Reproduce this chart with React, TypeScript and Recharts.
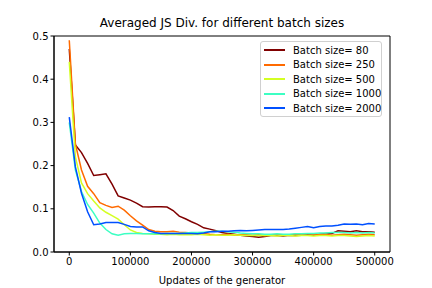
import { Line, LineChart, ReferenceArea, XAxis, YAxis } from "recharts";

const updates = Array.from({ length: 51 }, (_, i) => i * 10000);

const batch80 = [
  0.47, 0.248, 0.23, 0.205, 0.177, 0.179, 0.181, 0.157, 0.13, 0.125, 0.12,
  0.113, 0.105, 0.104, 0.105, 0.105, 0.104, 0.096, 0.083, 0.077, 0.07,
  0.064, 0.056, 0.053, 0.049, 0.045, 0.043, 0.041, 0.039, 0.037, 0.036,
  0.034, 0.036, 0.038, 0.038, 0.037, 0.039, 0.038, 0.039, 0.04, 0.039,
  0.041, 0.043, 0.043, 0.049, 0.048, 0.047, 0.049, 0.047, 0.047, 0.046,
];
const batch250 = [
  0.49, 0.25, 0.19, 0.152, 0.135, 0.114, 0.108, 0.103, 0.106, 0.097, 0.084,
  0.072, 0.062, 0.052, 0.048, 0.047, 0.047, 0.048, 0.046, 0.045, 0.044,
  0.042, 0.043, 0.041, 0.04, 0.04, 0.041, 0.039, 0.04, 0.04, 0.039,
  0.04, 0.038, 0.039, 0.04, 0.04, 0.039, 0.041, 0.04, 0.039, 0.04,
  0.04, 0.041, 0.039, 0.04, 0.041, 0.04, 0.039, 0.04, 0.041, 0.04,
];
const batch500 = [
  0.44, 0.22, 0.16, 0.135, 0.118, 0.102, 0.092, 0.084, 0.076, 0.063, 0.051,
  0.045, 0.043, 0.042, 0.041, 0.041, 0.04, 0.041, 0.04, 0.04, 0.04,
  0.041, 0.04, 0.039, 0.04, 0.039, 0.039, 0.04, 0.039, 0.038, 0.038,
  0.038, 0.039, 0.038, 0.037, 0.038, 0.038, 0.037, 0.038, 0.038, 0.037,
  0.038, 0.038, 0.037, 0.038, 0.038, 0.037, 0.036, 0.037, 0.038, 0.037,
];
const batch1000 = [
  0.3, 0.19, 0.14, 0.11, 0.09, 0.067, 0.052, 0.042, 0.039, 0.042, 0.043,
  0.043, 0.042, 0.042, 0.042, 0.042, 0.043, 0.043, 0.043, 0.044, 0.045,
  0.045, 0.046, 0.047, 0.048, 0.048, 0.047, 0.046, 0.044, 0.043, 0.042,
  0.042, 0.041, 0.041, 0.042, 0.041, 0.041, 0.042, 0.042, 0.043, 0.043,
  0.044, 0.044, 0.045, 0.045, 0.045, 0.044, 0.045, 0.044, 0.045, 0.044,
];
const batch2000 = [
  0.312, 0.197, 0.136, 0.093, 0.063, 0.065, 0.068, 0.068, 0.068, 0.064, 0.059,
  0.058, 0.058, 0.049, 0.045, 0.043, 0.043, 0.043, 0.043, 0.043, 0.043,
  0.042, 0.044, 0.047, 0.047, 0.048, 0.048, 0.049, 0.05, 0.049, 0.05,
  0.051, 0.052, 0.052, 0.052, 0.052, 0.053, 0.055, 0.057, 0.059, 0.056,
  0.059, 0.06, 0.06, 0.062, 0.065, 0.064, 0.065, 0.063, 0.066, 0.065,
];

const xTicks = [0, 100000, 200000, 300000, 400000, 500000];
const yTicks = [0, 0.1, 0.2, 0.3, 0.4, 0.5];

const series = [
  { key: "b80", name: "Batch size= 80", color: "#800000", values: batch80 },
  { key: "b250", name: "Batch size= 250", color: "#ff6a00", values: batch250 },
  { key: "b500", name: "Batch size= 500", color: "#d4ff23", values: batch500 },
  { key: "b1000", name: "Batch size= 1000", color: "#3cffc3", values: batch1000 },
  { key: "b2000", name: "Batch size= 2000", color: "#0050ff", values: batch2000 },
];

const data = updates.map((u, i) => {
  const row: Record<string, number> = { u };
  series.forEach((s) => (row[s.key] = s.values[i]));
  return row;
});

const font = "DejaVu Sans, sans-serif";

// matplotlib-style legend, drawn over the plot
function LegendBox() {
  return (
    <div
      style={{
        position: "absolute",
        left: 260,
        top: 41,
        width: 122,
        height: 76,
        boxSizing: "border-box",
        border: "1px solid #d0d0d0",
        borderRadius: 3,
        background: "rgba(255,255,255,0.8)",
        padding: "1px 0 0 3px",
        fontFamily: font,
        fontSize: 10,
        color: "#000",
        whiteSpace: "nowrap",
      }}
    >
      {series.map((s) => (
        <div key={s.key} style={{ display: "flex", alignItems: "center", height: 14.5 }}>
          <div style={{ width: 21, height: 2, flexShrink: 0, background: s.color, marginRight: 8 }} />
          <span>{s.name}</span>
        </div>
      ))}
    </div>
  );
}

export default function App() {
  return (
    <div style={{ position: "fixed", left: 0, top: 0, width: 432, height: 288, background: "#fff" }}>
      <div
        style={{
          position: "absolute",
          left: 54,
          width: 336,
          top: 16,
          textAlign: "center",
          fontFamily: font,
          fontSize: 12,
        }}
      >
        Averaged JS Div. for different batch sizes
      </div>
      <LineChart
        width={432}
        height={288}
        data={data}
        margin={{ top: 36, right: 42, bottom: 0, left: 14 }}
      >
        <XAxis
          dataKey="u"
          type="number"
          domain={[-25000, 525000]}
          ticks={xTicks}
          allowDataOverflow
          height={36}
          tickSize={3.5}
          stroke="#000"
          tick={{ fill: "#000", fontSize: 10, fontFamily: font }}
          label={{
            value: "Updates of the generator",
            position: "insideBottom",
            offset: 4,
            fill: "#000",
            fontSize: 10,
            fontFamily: font,
          }}
        />
        <YAxis
          type="number"
          domain={[0, 0.5]}
          ticks={yTicks}
          width={40}
          tickSize={3.5}
          stroke="#000"
          tickFormatter={(v: number) => v.toFixed(1)}
          tick={{ fill: "#000", fontSize: 10, fontFamily: font }}
        />
        <ReferenceArea
          x1={-25000}
          x2={525000}
          y1={0}
          y2={0.5}
          fill="none"
          stroke="#000"
          strokeWidth={1}
          ifOverflow="visible"
        />
        {series.map((s) => (
          <Line
            key={s.key}
            dataKey={s.key}
            name={s.name}
            stroke={s.color}
            strokeWidth={1.5}
            dot={false}
            type="linear"
            isAnimationActive={false}
          />
        ))}
      </LineChart>
      <LegendBox />
    </div>
  );
}
